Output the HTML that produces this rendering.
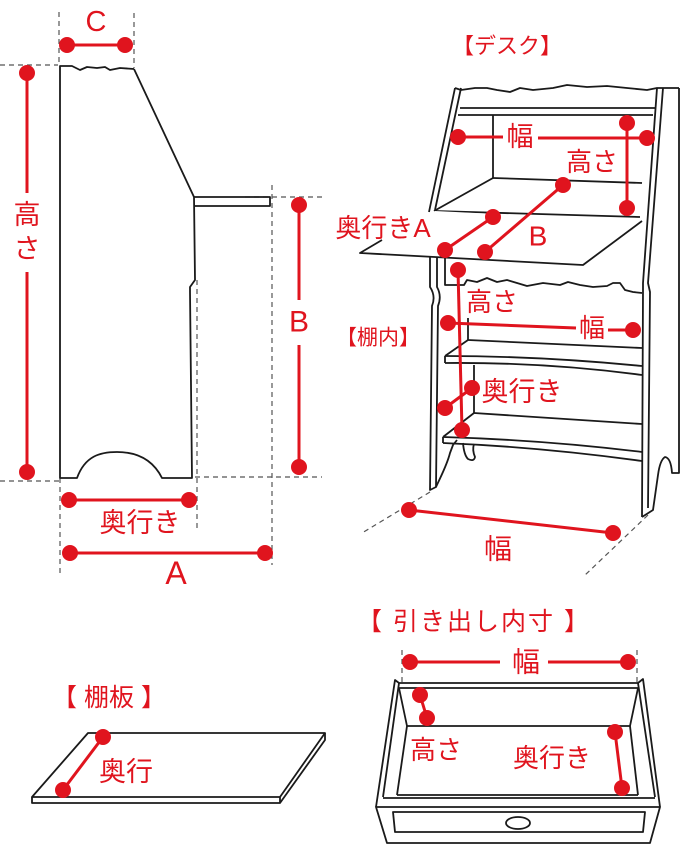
<!DOCTYPE html>
<html><head><meta charset="utf-8"><style>
html,body{margin:0;padding:0;background:#fff;}
svg{display:block;}
text{font-family:"Liberation Sans","Noto Sans CJK JP",sans-serif;fill:#e0141e;}
</style></head><body>
<svg width="690" height="863" viewBox="0 0 690 863" xmlns="http://www.w3.org/2000/svg">
<!-- ============ SIDE VIEW ============ -->
<g stroke="#555" stroke-width="1.2" stroke-dasharray="5,4" fill="none">
  <line x1="59" y1="12" x2="59" y2="65"/>
  <line x1="60" y1="478" x2="60" y2="573"/>
  <line x1="134" y1="13" x2="134" y2="68"/>
  <line x1="0" y1="65" x2="58" y2="65"/>
  <line x1="245" y1="197" x2="322" y2="197"/>
  <line x1="272" y1="185" x2="272" y2="565"/>
  <line x1="197" y1="280" x2="197" y2="532"/>
  <line x1="0" y1="481" x2="60" y2="481"/>
  <line x1="195" y1="477" x2="322" y2="477"/>
</g>
<g stroke="#1a1a1a" stroke-width="1.8" fill="none" stroke-linejoin="round">
  <path d="M134,69 L120,68 L110,70 L105,67 L97,68 L87,67 L80,70 L72,66 L60,66 L60,478 L77,478 C85,456 100,452 117,452 C135,452 152,458 162,478 L192,478 L190,292 L190,287 L195,280 L194,197 L134,69"/>
  <path d="M194,197 L270,197 L270,206 L194,206"/>
</g>
<g stroke="#e0141e" stroke-width="3" fill="#e0141e">
  <line x1="67" y1="45" x2="125" y2="45"/>
  <circle cx="67" cy="45" r="6.5"/><circle cx="125" cy="45" r="6.5"/>
  <line x1="27" y1="73" x2="27" y2="193"/>
  <line x1="27" y1="272" x2="27" y2="472"/>
  <circle cx="27" cy="73" r="6.5"/><circle cx="27" cy="472" r="6.5"/>
  <line x1="299" y1="205" x2="299" y2="300"/>
  <line x1="299" y1="345" x2="299" y2="467"/>
  <circle cx="299" cy="205" r="6.5"/><circle cx="299" cy="467" r="6.5"/>
  <line x1="69" y1="500" x2="189" y2="500"/>
  <circle cx="69" cy="500" r="6.5"/><circle cx="189" cy="500" r="6.5"/>
  <line x1="70" y1="553" x2="265" y2="553"/>
  <circle cx="70" cy="553" r="6.5"/><circle cx="265" cy="553" r="6.5"/>
</g>
<g text-anchor="middle" dominant-baseline="central">
  <text x="96" y="22" font-size="29">C</text>
  <text x="27" y="215" font-size="27">高</text>
  <text x="27" y="249" font-size="27">さ</text>
  <text x="299" y="322" font-size="30">B</text>
  <text x="140" y="523" font-size="27">奥行き</text>
  <text x="176" y="573" font-size="32">A</text>
</g>

<!-- ============ DESK ============ -->
<text x="507" y="46" font-size="22" text-anchor="middle" dominant-baseline="central">【デスク】</text>
<g stroke="#1a1a1a" stroke-width="1.8" fill="none" stroke-linejoin="round">
  <!-- upper frame -->
  <line x1="455" y1="88" x2="429" y2="212"/>
  <line x1="461" y1="88" x2="435" y2="210"/>
  <path d="M455,88 L461,90 L475,88 L487,88 L497,90 L510,92 L520,88 L533,90 L553,88 L567,85 L587,87 L607,86 L627,88 L647,90 L657,88 L679,88"/>
  <!-- right frame -->
  <path d="M657,88 L643,283 L643,290 L642,517"/>
  <path d="M663,88 L648,283 L650,292 L648,508"/>
  <path d="M679,88 L679,473 L672,473 Q671,458 665,457 Q660,460 658,475 L653,510 L642,517"/>
  <!-- top rails -->
  <line x1="460" y1="108" x2="655" y2="108"/>
  <line x1="458" y1="115" x2="653" y2="115"/>
  <line x1="493" y1="115" x2="493" y2="178"/>
  <line x1="493" y1="178" x2="642" y2="183"/>
  <line x1="493" y1="178" x2="434" y2="211"/>
  <line x1="435" y1="211" x2="640" y2="217"/>
  <!-- lower left frame -->
  <path d="M430,240 L430,287 Q436,296 432,306 L430,490 L436,487"/>
  <path d="M437,240 L437,287 Q442,296 438,306 L436,487 C441,476 447,465 450,453 L453,445 L457,440"/>
  <path d="M463,443 Q464,455 468,459 Q474,462 475,457 Q472,450 474,444"/>
  <!-- lower compartment top -->
  <path d="M445,256 L445,285 L464,285 L467,280 L477,282 L487,278 L497,282 L507,280 L517,283 L527,286 L543,283 L560,285 L568,282 L580,285 L593,287 L607,286 L613,283 L620,283 L625,290 L633,292 L642,293"/>
  <!-- upper shelf -->
  <line x1="468" y1="318" x2="468" y2="340"/>
  <line x1="468" y1="340" x2="642" y2="348"/>
  <line x1="468" y1="340" x2="445" y2="356"/>
  <line x1="445" y1="356" x2="445" y2="363"/>
  <path d="M445,356 Q540,356 642,366"/>
  <path d="M445,363 Q545,362 642,375"/>
  <!-- lower shelf -->
  <line x1="474" y1="365" x2="474" y2="413"/>
  <line x1="474" y1="413" x2="642" y2="424"/>
  <line x1="474" y1="413" x2="443" y2="437"/>
  <line x1="443" y1="437" x2="443" y2="443"/>
  <path d="M443,437 Q545,440 642,452"/>
  <path d="M443,443 Q540,447 642,461"/>
</g>
<!-- flap -->
<path d="M435,211 L360,253 L583,265 L642,221 Z" fill="#fff" stroke="none"/>
<path d="M382,240 L360,253 L583,265 L642,221" fill="none" stroke="#1a1a1a" stroke-width="1.8" stroke-linejoin="round"/>
<g stroke="#555" stroke-width="1.2" stroke-dasharray="5,4" fill="none">
  <line x1="430" y1="492" x2="362" y2="533"/>
  <line x1="648" y1="515" x2="583" y2="577"/>
</g>
<g stroke="#e0141e" stroke-width="3" fill="#e0141e">
  <line x1="458" y1="137" x2="503" y2="137"/>
  <line x1="538" y1="138" x2="647" y2="138"/>
  <circle cx="458" cy="137" r="6.5"/><circle cx="647" cy="138" r="6.5"/>
  <line x1="627" y1="123" x2="627" y2="208"/>
  <circle cx="627" cy="123" r="6.5"/><circle cx="627" cy="208" r="6.5"/>
  <line x1="563" y1="185" x2="485" y2="252"/>
  <circle cx="563" cy="185" r="6.5"/><circle cx="485" cy="252" r="6.5"/>
  <line x1="493" y1="217" x2="445" y2="250"/>
  <circle cx="493" cy="217" r="6.5"/><circle cx="445" cy="250" r="6.5"/>
  <line x1="458" y1="270" x2="462" y2="430"/>
  <circle cx="458" cy="270" r="6.5"/><circle cx="462" cy="430" r="6.5"/>
  <line x1="448" y1="323" x2="576" y2="328"/>
  <line x1="608" y1="330" x2="633" y2="330"/>
  <circle cx="448" cy="323" r="6.5"/><circle cx="633" cy="330" r="6.5"/>
  <line x1="472" y1="388" x2="445" y2="408"/>
  <circle cx="472" cy="388" r="6.5"/><circle cx="445" cy="408" r="6.5"/>
  <line x1="409" y1="510" x2="613" y2="533"/>
  <circle cx="409" cy="510" r="6.5"/><circle cx="613" cy="533" r="6.5"/>
</g>
<g text-anchor="middle" dominant-baseline="central">
  <text x="520" y="137" font-size="27">幅</text>
  <text x="592" y="162" font-size="26">高さ</text>
  <text x="538" y="236" font-size="28">B</text>
  <text x="383" y="228" font-size="26">奥行きA</text>
  <text x="492" y="302" font-size="26">高さ</text>
  <text x="592" y="328" font-size="26">幅</text>
  <text x="522" y="392" font-size="27">奥行き</text>
  <text x="378" y="338" font-size="21">【棚内】</text>
  <text x="498" y="549" font-size="28">幅</text>
</g>

<!-- ============ SHELF BOARD ============ -->
<text x="109" y="698" font-size="25" text-anchor="middle" dominant-baseline="central">【 棚板 】</text>
<g stroke="#1a1a1a" stroke-width="1.8" fill="none" stroke-linejoin="round">
  <path d="M88,733 L325,733 L280,797 L32,797 Z"/>
  <path d="M32,797 L32,803 L280,803 L280,797"/>
  <path d="M325,733 L325,740 L280,803"/>
</g>
<g stroke="#e0141e" stroke-width="3" fill="#e0141e">
  <line x1="103" y1="737" x2="63" y2="790"/>
  <circle cx="103" cy="737" r="6.5"/><circle cx="63" cy="790" r="6.5"/>
</g>
<text x="126" y="772" font-size="27" text-anchor="middle" dominant-baseline="central">奥行</text>

<!-- ============ DRAWER ============ -->
<text x="474" y="622" font-size="25" text-anchor="middle" dominant-baseline="central" letter-spacing="2">【 引き出し内寸 】</text>
<g stroke="#555" stroke-width="1.2" stroke-dasharray="5,4" fill="none">
  <line x1="402" y1="650" x2="402" y2="684"/>
  <line x1="637" y1="650" x2="637" y2="684"/>
</g>
<g stroke="#1a1a1a" stroke-width="1.8" fill="none" stroke-linejoin="round">
  <path d="M376,807 L395,680 L399,683"/>
  <path d="M660,807 L643,679 L638,683"/>
  <line x1="399" y1="683" x2="638" y2="683"/>
  <line x1="399" y1="688" x2="638" y2="688"/>
  <line x1="399" y1="683" x2="383" y2="797"/>
  <line x1="638" y1="683" x2="655" y2="797"/>
  <line x1="399" y1="688" x2="407" y2="726"/>
  <line x1="638" y1="688" x2="630" y2="726"/>
  <line x1="407" y1="726" x2="630" y2="726"/>
  <line x1="407" y1="726" x2="397" y2="795"/>
  <line x1="630" y1="726" x2="638" y2="795"/>
  <line x1="397" y1="795" x2="638" y2="795"/>
  <line x1="383" y1="798" x2="655" y2="798"/>
  <path d="M376,807 L660,807 L650,843 L387,843 Z"/>
  <path d="M393,812 L645,812 L643,832 L395,832 Z"/>
  <ellipse cx="518" cy="823" rx="12" ry="6"/>
</g>
<g stroke="#e0141e" stroke-width="3" fill="#e0141e">
  <line x1="410" y1="662" x2="500" y2="662"/>
  <line x1="548" y1="662" x2="628" y2="662"/>
  <circle cx="410" cy="662" r="6.5"/><circle cx="628" cy="662" r="6.5"/>
  <line x1="420" y1="695" x2="427" y2="718"/>
  <circle cx="420" cy="695" r="6.5"/><circle cx="427" cy="718" r="6.5"/>
  <line x1="615" y1="732" x2="622" y2="788"/>
  <circle cx="615" cy="732" r="6.5"/><circle cx="622" cy="788" r="6.5"/>
</g>
<g text-anchor="middle" dominant-baseline="central">
  <text x="526" y="662" font-size="28">幅</text>
  <text x="436" y="750" font-size="26">高さ</text>
  <text x="552" y="758" font-size="26">奥行き</text>
</g>
</svg>
</body></html>
